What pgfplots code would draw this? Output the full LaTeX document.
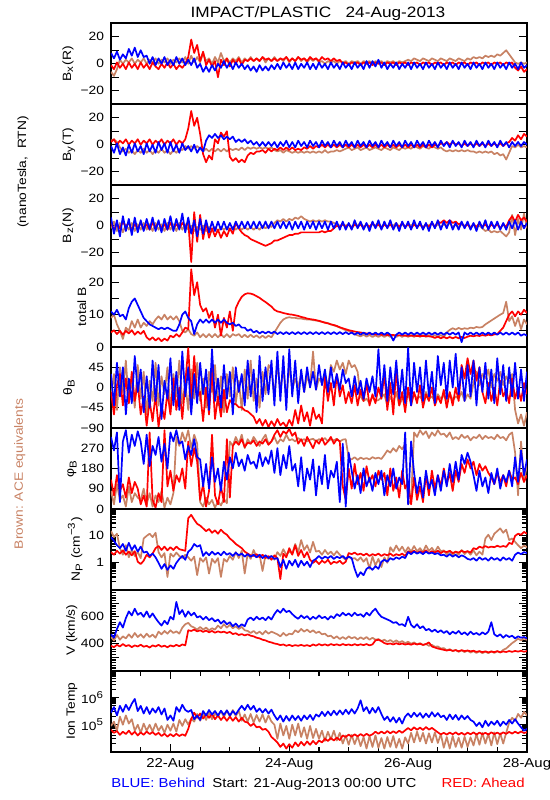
\documentclass[border=0pt]{standalone}
\usepackage{fontspec}
\setmainfont{Liberation Sans}[FakeStretch=1.15]
\usepackage{pgfplots}
\usepackage{pgfplotstable}
\pgfplotsset{compat=1.18}
\definecolor{acebrown}{RGB}{200,130,100}

\pgfplotstableread{
t r b g
0.00 -1 8 -6
0.05 -4 4 -9
0.10 1 9 -4
0.15 -3 3 3
0.20 0 7 0
0.25 -4 4 3
0.30 1 11 1
0.35 -3 6 4
0.40 0 12 0
0.45 -4 5 3
0.50 1 10 1
0.55 -3 5 4
0.60 0 6 0
0.65 -4 0 3
0.70 1 5 1
0.75 -2 -1 4
0.80 -4 4 0
0.85 0 0 3
0.90 -3 5 1
0.95 1 -1 4
1.00 -3 3 0
1.05 0 -1 3
1.10 -4 5 1
1.15 -1 0 4
1.20 -3 4 1
1.25 0 -1 5
1.30 5 3 0
1.35 18 -1 6
1.40 8 4 1
1.45 14 -3 5
1.50 2 0 1
1.55 9 -6 8
1.60 -1 -2 2
1.65 3 -6 4
1.70 -2 -1 0
1.75 2 -5 5
1.80 -10 0 1
1.85 3 -3 8
1.90 -1 2 2
1.95 4 -3 4
2.00 -2 1 1
2.05 3 -4 4
2.10 0 1 2
2.15 4 -3 5
2.20 -1 0 1
2.25 3 -4 4
2.30 2 -1 2
2.35 4 -5 5
2.40 2 -2 2
2.45 4 -6 4
2.50 2 -1 2
2.55 5 -5 5
2.60 3 -2 1
2.65 4 -5 4
2.70 2 -1 2
2.75 4 -4 5
2.80 2 0 2
2.85 4 -4 4
2.90 3 1 2
2.95 5 -3 5
3.00 2 0 1
3.05 4 -4 4
3.10 2 1 2
3.15 5 -4 5
3.20 3 0 2
3.25 4 -3 4
3.30 2 1 1
3.35 5 -4 4
3.40 3 0 2
3.45 4 -4 4
3.50 2 1 1
3.55 5 -3 2
3.60 3 0 0
3.65 4 -4 2
3.70 2 1 1
3.75 4 -3 2
3.80 2 0 0
3.85 3 -4 2
3.90 0 1 1
3.95 1 -3 2
4.00 -1 0 0
4.05 1 -4 2
4.10 0 1 1
4.15 1 -3 2
4.20 -1 0 0
4.25 1 -4 2
4.30 0 2 1
4.35 1 -3 2
4.40 -1 2 0
4.45 1 -2 2
4.50 0 3 1
4.55 1 -3 2
4.60 -1 1 0
4.65 1 -4 2
4.70 0 0 1
4.75 1 -3 2
4.80 -1 1 0
4.85 1 -4 2
4.90 0 0 1
4.95 1 -3 2
5.00 -1 1 3
5.05 1 -4 2
5.10 0 1 4
5.15 1 -3 3
5.20 -1 0 2
5.25 1 -4 4
5.30 0 1 3
5.35 1 -3 2
5.40 -1 0 4
5.45 1 -4 3
5.50 0 1 2
5.55 1 -3 4
5.60 -1 0 3
5.65 1 -4 2
5.70 0 1 4
5.75 1 -3 3
5.80 -1 0 2
5.85 1 -4 4
5.90 0 1 3
5.95 1 -3 2
6.00 -1 0 4
6.05 1 -4 3
6.10 0 1 5
6.15 1 -3 4
6.20 -1 0 5
6.25 1 -4 4
6.30 0 1 6
6.35 1 -3 5
6.40 -1 0 6
6.45 1 -4 5
6.50 0 1 7
6.55 1 -3 6
6.60 -1 0 8
6.65 1 -4 10
6.70 0 1 7
6.75 1 -3 4
6.80 -3 0 1
6.85 -5 -4 0
6.90 -2 1 1
6.95 -6 -3 0
7.00 -4 -1 1
}\tBx

\pgfplotstableread{
t r b g
0.00 2 -1 3
0.05 4 -6 4
0.10 0 1 2
0.15 3 -7 -2
0.20 1 -2 -5
0.25 4 -8 -3
0.30 0 0 -6
0.35 3 -6 -4
0.40 1 1 -7
0.45 4 -5 -4
0.50 0 -1 -6
0.55 3 -7 -3
0.60 1 1 -6
0.65 4 -5 -4
0.70 0 0 -7
0.75 3 -6 -4
0.80 1 2 -6
0.85 4 -4 -3
0.90 0 1 -6
0.95 3 -6 -4
1.00 1 2 -7
1.05 4 -5 -4
1.10 0 0 -6
1.15 3 -6 -3
1.20 1 1 -4
1.25 4 -4 -1
1.30 12 -1 -3
1.35 25 -5 -1
1.40 14 0 -3
1.45 20 -6 -1
1.50 8 -2 -3
1.55 -7 -5 -5
1.60 -13 3 -3
1.65 -8 7 -5
1.70 -11 5 -3
1.75 4 8 -5
1.80 1 5 -3
1.85 9 7 -5
1.90 6 4 -3
1.95 10 6 -5
2.00 -9 4 -3
2.05 -12 6 -4
2.10 -10 2 -3
2.15 -13 4 -4
2.20 -11 2 -2
2.25 -13 4 -4
2.30 -8 1 -2
2.35 -6 3 -3
2.40 -7 0 -2
2.45 -5 2 -3
2.50 -5 -1 -2
2.55 -4 2 -3
2.60 -6 -1 -2
2.65 -3 2 -3
2.70 -5 -1 -2
2.75 -3 2 -4
2.80 -4 -2 -5
2.85 -2 2 -4
2.90 -4 -1 -6
2.95 -2 3 -4
3.00 -4 -2 -5
3.05 -2 2 -6
3.10 -4 -2 -5
3.15 -3 3 -6
3.20 -4 -1 -5
3.25 -2 2 -6
3.30 -3 -2 -5
3.35 -1 3 -6
3.40 -3 -1 -5
3.45 -1 2 -6
3.50 -2 -2 -5
3.55 0 3 -6
3.60 -2 -1 -4
3.65 0 2 -6
3.70 -2 -2 -5
3.75 0 3 -5
3.80 -2 -1 -4
3.85 0 2 -5
3.90 -2 -2 -4
3.95 0 3 -3
4.00 -2 -1 -2
4.05 0 2 -4
4.10 -2 -2 -3
4.15 0 3 -2
4.20 -2 -1 -4
4.25 0 2 -3
4.30 -2 -2 -2
4.35 0 3 -4
4.40 -2 -1 -3
4.45 0 2 -2
4.50 -2 -2 -3
4.55 0 3 -4
4.60 -2 -1 -2
4.65 0 2 -3
4.70 -2 -2 -4
4.75 0 3 -2
4.80 -2 -1 -3
4.85 0 2 -4
4.90 -2 -2 -2
4.95 0 3 -3
5.00 -2 -1 -2
5.05 0 2 -3
5.10 -2 -2 -1
5.15 0 3 -2
5.20 -2 -1 -3
5.25 0 2 -1
5.30 -2 -2 -2
5.35 0 3 -3
5.40 -2 -1 -1
5.45 0 2 -2
5.50 -1 -2 -3
5.55 1 3 -2
5.60 0 -1 -4
5.65 2 2 -5
5.70 0 -2 -4
5.75 2 3 -5
5.80 0 -1 -4
5.85 1 2 -5
5.90 -1 -2 -4
5.95 1 3 -5
6.00 -1 -1 -4
6.05 1 2 -5
6.10 -1 -2 -5
6.15 1 3 -6
6.20 -1 -1 -5
6.25 1 2 -6
6.30 -1 -2 -5
6.35 1 3 -6
6.40 -1 -1 -5
6.45 1 2 -7
6.50 -1 -2 -6
6.55 1 3 -8
6.60 -1 -1 -7
6.65 1 2 -11
6.70 2 -2 -6
6.75 5 2 -1
6.80 3 -1 -2
6.85 7 2 0
6.90 4 -1 -2
6.95 8 2 -1
7.00 6 0 -2
}\tBy

\pgfplotstableread{
t r b g
0.00 2 6 -2
0.05 -3 -6 3
0.10 1 4 -4
0.15 -2 -8 2
0.20 3 7 -5
0.25 -1 -4 1
0.30 2 5 -3
0.35 -3 -7 2
0.40 1 6 -4
0.45 -2 -5 1
0.50 2 4 -3
0.55 -2 -4 2
0.60 1 5 -3
0.65 -3 -3 1
0.70 2 6 -4
0.75 -1 -4 2
0.80 2 4 -3
0.85 -2 -5 1
0.90 1 5 -4
0.95 -3 -3 2
1.00 2 7 -3
1.05 -2 -4 1
1.10 1 5 -4
1.15 -2 -3 2
1.20 2 9 -3
1.25 -1 -5 1
1.30 3 6 -3
1.35 -27 -6 0
1.40 10 4 -4
1.45 -12 -8 -1
1.50 8 5 -3
1.55 -10 -6 0
1.60 2 4 -4
1.65 -9 -5 -1
1.70 -2 3 -3
1.75 -8 -4 -1
1.80 -3 3 -4
1.85 -9 -3 -1
1.90 -4 3 -3
1.95 -8 -3 -1
2.00 -2 2 -3
2.05 -6 -3 -1
2.10 2 3 -3
2.15 -2 -2 -1
2.20 -5 3 -3
2.25 -7 -2 -1
2.30 -8 3 -3
2.35 -10 -2 -1
2.40 -11 3 -3
2.45 -12 -2 -1
2.50 -13 3 -3
2.55 -14 -2 0
2.60 -15 3 -2
2.65 -14 -2 0
2.70 -13 3 -1
2.75 -11 -2 2
2.80 -11 3 4
2.85 -10 -2 3
2.90 -9 3 5
2.95 -8 -2 3
3.00 -7 3 5
3.05 -7 -3 4
3.10 -6 3 6
3.15 -6 -2 5
3.20 -5 3 7
3.25 -5 -3 5
3.30 -5 3 4
3.35 -5 -2 3
3.40 -5 3 4
3.45 -5 -3 3
3.50 -5 3 4
3.55 -4 -2 3
3.60 -5 3 4
3.65 -4 -3 3
3.70 -4 3 3
3.75 -2 -2 2
3.80 0 3 1
3.85 -1 -3 0
3.90 1 3 1
3.95 -1 -3 0
4.00 1 2 1
4.05 -2 -3 -1
4.10 1 4 1
4.15 -1 -2 0
4.20 1 3 2
4.25 -2 -3 -1
4.30 1 2 1
4.35 -1 -4 -1
4.40 2 3 1
4.45 -1 -2 0
4.50 1 4 2
4.55 -2 -3 -1
4.60 1 3 1
4.65 -1 -2 -1
4.70 1 4 1
4.75 -2 -3 0
4.80 1 2 2
4.85 -1 -4 -1
4.90 2 3 1
4.95 -1 -2 -1
5.00 1 3 1
5.05 -2 -3 0
5.10 1 4 2
5.15 -1 -2 -1
5.20 1 3 1
5.25 -2 -3 -1
5.30 1 2 1
5.35 -1 -4 0
5.40 2 3 2
5.45 -1 -2 -1
5.50 3 4 1
5.55 2 -3 -1
5.60 4 3 1
5.65 2 -2 0
5.70 4 4 2
5.75 2 -3 -1
5.80 3 2 1
5.85 1 -3 -1
5.90 2 3 1
5.95 -1 -2 0
6.00 1 3 1
6.05 -2 -3 -1
6.10 1 2 1
6.15 -1 -4 -1
6.20 2 3 0
6.25 -1 -2 -2
6.30 1 4 -4
6.35 -2 -3 -3
6.40 1 3 -5
6.45 -1 -2 -4
6.50 1 3 -5
6.55 -2 -3 -4
6.60 1 2 -6
6.65 -1 -3 -8
6.70 4 3 -5
6.75 7 -2 8
6.80 3 4 -7
6.85 8 -3 5
6.90 4 3 -3
6.95 6 -2 9
7.00 3 2 -2
}\tBz

\pgfplotstableread{
t r b g
0.00 4.5 11 9
0.05 5.2 10 10
0.10 4.0 11.5 7
0.15 5.0 9.5 5
0.20 3.8 10 2.5
0.25 5.0 8.5 6
0.30 4.2 12 5
0.35 5.2 14 8
0.40 3.8 15 6
0.45 4.8 13 8.5
0.50 4.0 11 6
0.55 5.0 9 7.5
0.60 3.0 8 6.5
0.65 2.2 7 8
0.70 3.0 6.5 7
0.75 2.0 6 8.5
0.80 2.8 5.5 9.5
0.85 1.8 6 8.5
0.90 2.6 5.5 10
0.95 2.0 6 8.5
1.00 3.5 5.5 9.5
1.05 3.0 5 8.5
1.10 4.0 5 9.5
1.15 3.2 7 8
1.20 4.5 10 5
1.25 6 11 4.5
1.30 5.5 9 5.5
1.35 24 8 4
1.40 16 4 3.5
1.45 20 7 4.5
1.50 13 8.5 3
1.55 11 7.5 4
1.60 12 8.5 3
1.65 9 7.5 4
1.70 11 8.5 3
1.75 6 7.5 4
1.80 10 8.5 3
1.85 3.5 7.5 4
1.90 9 8.5 3
1.95 6 7.5 4
2.00 11 7 3
2.05 5 7.5 4
2.10 12 6.5 3.5
2.15 14 7 4
2.20 15.5 6 3
2.25 16.3 6 3.8
2.30 16.6 5 3
2.35 16.5 5.5 3.8
2.40 16.2 4.5 3
2.45 15.7 5 3.6
2.50 15.2 4.2 2.8
2.55 14.5 4.8 3.5
2.60 13.9 4.2 2.8
2.65 13.2 4.8 3.5
2.70 12.5 4.2 3
2.75 11.5 4.8 4.5
2.80 11 4 6
2.85 10.8 4.6 7.5
2.90 10.5 4 8.5
2.95 10.3 4.6 9
3.00 10.1 4 9.2
3.05 10 4.6 9
3.10 9.8 4 9
3.15 9.6 4.6 8.8
3.20 9.3 4 8.8
3.25 9.1 4.6 8.6
3.30 8.8 4 8.5
3.35 8.6 4.6 8.5
3.40 8.5 4 8.3
3.45 8.3 4.6 8.2
3.50 8.1 4 8
3.55 7.8 4.6 7.8
3.60 7.5 4 7.6
3.65 7.3 4.6 7.4
3.70 7 4 7
3.75 6.8 4.6 6.7
3.80 6.5 4 6.4
3.85 6.1 4.6 6
3.90 5.8 4 5.6
3.95 5.5 4.6 5.2
4.00 5.2 4 5
4.05 5 4.5 4.5
4.10 4.8 3.8 4
4.15 4.6 4.5 3.6
4.20 4.5 3.8 3.3
4.25 4.3 4.5 3.8
4.30 4.2 3.8 3.2
4.35 4.1 4.5 3.7
4.40 4 3.8 3.1
4.45 3.9 4.5 3.6
4.50 3.9 3.8 3.1
4.55 3.8 4.5 3.7
4.60 3.8 3.8 3.1
4.65 3.7 4.5 3.7
4.70 3.7 3.8 3.1
4.75 3.7 2.0 3.7
4.80 3.6 3.8 3.1
4.85 3.6 4.5 3.7
4.90 3.6 3.8 3.1
4.95 3.5 4.5 3.7
5.00 3.5 3.8 3.1
5.05 3.5 4.5 3.7
5.10 3.5 3.8 3.1
5.15 3.4 4.5 3.7
5.20 3.4 3.8 3.1
5.25 3.4 4.5 3.7
5.30 3.4 3.8 3.1
5.35 3.3 4.5 3.7
5.40 3.2 3.8 3.1
5.45 2.8 4.5 3.7
5.50 3.2 3.8 3.1
5.55 2.7 4.5 3.7
5.60 3.1 3.8 3.1
5.65 2.7 4.5 4.5
5.70 3.1 3.8 5.3
5.75 2.7 4.5 5.8
5.80 3.1 3.8 5.4
5.85 2.7 4.5 5.9
5.90 3.1 1.5 5.5
5.95 2.8 4.5 5.8
6.00 3.2 3.8 5.6
6.05 3.5 4.5 6
6.10 3.3 3.8 5.8
6.15 3.6 4.5 6.2
6.20 3.4 3.8 6
6.25 3.7 4.5 6.2
6.30 3.5 3.8 7
6.35 3.8 4.5 7.6
6.40 3.6 3.8 8.2
6.45 3.9 4.5 8.8
6.50 4 3.8 9.4
6.55 5 4.5 10
6.60 6 3.8 10.5
6.65 8 4.5 14
6.70 10 3.8 8
6.75 11 4.5 9.5
6.80 9.5 3.8 6.5
6.85 11 4.5 9
6.90 10 3.5 5.5
6.95 11.5 4 8.5
7.00 10.5 3.5 7
}\tBt

\pgfplotstableread{
t r b g
0.00 -10 30 -20
0.05 -60 -40 30
0.10 5 55 -50
0.15 30 -20 45
0.20 -40 45 -10
0.25 20 -60 60
0.30 -35 20 -35
0.35 35 -35 20
0.40 -30 70 -45
0.45 10 -10 50
0.50 -60 40 -25
0.55 -20 -55 35
0.60 -85 25 -60
0.65 -30 -45 15
0.70 -75 60 -30
0.75 -15 -30 55
0.80 -88 50 -40
0.85 -40 -70 25
0.90 -70 15 -15
0.95 -10 -25 45
1.00 -60 65 -55
1.05 20 -40 30
1.10 -50 35 -20
1.15 0 -50 60
1.20 -70 80 -35
1.25 10 -20 10
1.30 88 45 -50
1.35 -30 -60 40
1.40 70 30 -25
1.45 -20 -35 55
1.50 -10 55 -30
1.55 -75 -15 20
1.60 0 40 -45
1.65 -60 -50 35
1.70 45 85 -10
1.75 -70 -30 50
1.80 -20 20 -40
1.85 -65 -45 25
1.90 -5 50 -55
1.95 -55 -25 30
2.00 -28 35 -20
2.05 -36 -60 45
2.10 -37 45 -35
2.15 -44 -10 15
2.20 -44 30 -50
2.25 -51 -40 40
2.30 -53 60 -25
2.35 -59 -20 60
2.40 -65 40 -30
2.45 -80 -55 20
2.50 -70 70 -45
2.55 -85 -30 35
2.60 -72 45 -15
2.65 -88 -15 50
2.70 -75 60 40
2.75 -86 -40 -20
2.80 -70 80 55
2.85 -84 -30 -10
2.90 -78 70 45
2.95 -88 -50 -25
3.00 -72 85 50
3.05 -85 -20 -5
3.10 -50 60 20
3.15 -80 -35 0
3.20 -40 40 30
3.25 -75 -10 -10
3.30 -55 45 25
3.35 -85 0 5
3.40 -45 35 80
3.45 -70 -5 -5
3.50 -60 50 20
3.55 -80 5 10
3.60 25 40 30
3.65 -30 -10 0
3.70 10 45 50
3.75 -40 0 35
3.80 30 30 60
3.85 -20 -5 40
3.90 5 40 55
3.95 -35 10 30
4.00 -10 20 60
4.05 -35 -20 45
4.10 5 25 50
4.15 -40 -15 35
4.20 -5 15 -20
4.25 -30 -25 -30
4.30 10 20 -25
4.35 -40 -10 -35
4.40 -15 25 -20
4.45 -35 -20 -30
4.50 0 85 -28
4.55 -25 -20 -22
4.60 30 50 -15
4.65 -50 -30 -40
4.70 10 45 -20
4.75 -60 -15 -35
4.80 40 60 -10
4.85 -40 -25 -40
4.90 -10 40 -25
4.95 -55 -35 -30
5.00 0 88 -15
5.05 -40 -40 -35
5.10 -10 55 -15
5.15 -35 -10 -25
5.20 5 45 -20
5.25 -45 -30 -30
5.30 -15 60 -10
5.35 -30 -20 -25
5.40 0 35 -20
5.45 -40 -35 -30
5.50 -20 70 -15
5.55 -35 5 -25
5.60 -5 55 -18
5.65 -45 -25 -30
5.70 -10 60 -12
5.75 -40 0 -28
5.80 0 75 -20
5.85 -30 -15 -25
5.90 50 45 -10
5.95 20 -30 -30
6.00 65 50 -15
6.05 30 -20 -25
6.10 60 60 10
6.15 15 -40 35
6.20 45 45 5
6.25 -10 -10 30
6.30 -35 55 20
6.35 10 -25 40
6.40 -30 40 0
6.45 0 -35 30
6.50 -40 65 15
6.55 15 -15 35
6.60 -20 50 5
6.65 -5 -30 25
6.70 -35 45 10
6.75 20 -20 30
6.80 -25 55 -50
6.85 0 -25 -80
6.90 -30 40 -60
6.95 10 -30 -85
7.00 -15 35 -55
}\tTh

\pgfplotstableread{
t r b g
0.00 130 320 80
0.05 60 260 20
0.10 150 340 110
0.15 80 30 40
0.20 110 300 60
0.25 50 350 10
0.30 140 250 100
0.35 70 330 30
0.40 120 280 70
0.45 90 345 50
0.50 20 300 40
0.55 60 200 90
0.60 10 330 20
0.65 340 190 70
0.70 40 280 10
0.75 5 240 60
0.80 70 320 30
0.85 30 210 80
0.90 350 290 5
0.95 100 180 50
1.00 170 340 20
1.05 80 300 70
1.10 150 350 320
1.15 120 290 280
1.20 180 300 340
1.25 90 220 300
1.30 300 280 350
1.35 190 240 270
1.40 270 310 330
1.45 210 230 290
1.50 40 220 30
1.55 110 100 10
1.60 10 200 50
1.65 80 90 20
1.70 330 230 40
1.75 60 120 5
1.80 20 180 35
1.85 100 80 15
1.90 30 210 45
1.95 310 130 25
2.00 50 230 300
2.05 280 180 280
2.10 300 250 320
2.15 285 190 290
2.20 310 220 330
2.25 275 170 270
2.30 295 240 310
2.35 290 200 290
2.40 305 210 320
2.45 280 180 300
2.50 300 250 280
2.55 290 190 310
2.60 310 230 330
2.65 285 200 290
2.70 300 260 300
2.75 330 160 320
2.80 350 270 290
2.85 320 150 310
2.90 345 240 300
2.95 335 180 330
3.00 355 280 305
3.05 325 170 310
3.10 340 200 300
3.15 290 100 315
3.20 310 230 305
3.25 280 80 310
3.30 320 180 300
3.35 295 130 308
3.40 270 220 312
3.45 305 60 300
3.50 290 190 310
3.55 315 110 305
3.60 285 240 315
3.65 300 90 300
3.70 320 170 310
3.75 290 140 305
3.80 310 210 312
3.85 300 30 300
3.90 100 290 308
3.95 40 10 310
4.00 180 250 225
4.05 90 170 220
4.10 200 90 230
4.15 110 150 218
4.20 160 70 228
4.25 80 180 222
4.30 190 100 226
4.35 120 140 220
4.40 150 80 230
4.45 100 160 224
4.50 170 110 228
4.55 130 170 222
4.60 160 60 240
4.65 60 150 260
4.70 180 100 250
4.75 80 180 270
4.80 140 90 255
4.85 50 140 280
4.90 170 110 265
4.95 90 340 290
5.00 120 20 20
5.05 20 300 40
5.10 140 160 340
5.15 40 70 320
5.20 100 140 350
5.25 30 50 330
5.30 150 170 345
5.35 60 90 315
5.40 170 130 340
5.45 90 60 325
5.50 150 150 350
5.55 100 80 330
5.60 180 170 335
5.65 110 100 320
5.70 160 200 340
5.75 80 120 310
5.80 170 210 320
5.85 120 130 310
5.90 200 240 330
5.95 160 200 315
6.00 220 250 325
6.05 180 210 305
6.10 210 150 320
6.15 150 80 315
6.20 200 170 330
6.25 170 100 310
6.30 190 140 325
6.35 160 70 315
6.40 140 160 320
6.45 110 110 310
6.50 160 180 330
6.55 120 90 315
6.60 150 150 320
6.65 100 120 305
6.70 170 170 330
6.75 130 100 340
6.80 140 230 250
6.85 110 120 60
6.90 160 260 300
6.95 120 150 120
7.00 150 220 200
}\tPh

\pgfplotstableread{
t r b g
0.00 2.5 9 15
0.05 2.0 6.5 9
0.10 2.8 4.5 12
0.15 2.2 3.5 3.5
0.20 2.9 5 2.0
0.25 2.0 2.8 4.5
0.30 2.6 5.5 1.6
0.35 1.9 3 3.0
0.40 2.7 4.5 1.8
0.45 1.1 2.6 2.5
0.50 0.9 4 1.5
0.55 1.2 2.4 8
0.60 2.0 2.6 10
0.65 1.6 1.8 12
0.70 2.2 2.2 9
0.75 3.5 1.6 13
0.80 4.2 1.0 2.5
0.85 3.0 0.6 1.6
0.90 4.0 0.9 2.3
0.95 2.9 0.55 0.3
1.00 3.8 0.8 2.2
1.05 3.0 0.6 1.7
1.10 4.0 1.0 2.4
1.15 3.2 1.4 1.8
1.20 3.0 1.8 1.5
1.25 2.8 1.3 2.0
1.30 45 2.6 1.6
1.35 60 3.2 1.2
1.40 40 5 1.7
1.45 28 4 0.35
1.50 24 4.5 1.5
1.55 19 1.8 1.1
1.60 15 2.5 1.6
1.65 18 1.9 0.4
1.70 13 2.6 1.4
1.75 16 2.0 1.0
1.80 12 2.4 1.5
1.85 17 1.9 0.3
1.90 13 2.6 1.4
1.95 11 2.0 1.1
2.00 8 2.3 1.8
2.05 6.5 1.8 1.3
2.10 5 2.4 2.5
2.15 4.2 1.9 1.5
2.20 3.5 2.2 2.8
2.25 2.6 1.7 0.4
2.30 2.2 2.1 2.2
2.35 1.9 1.7 1.4
2.40 1.8 2.0 3.0
2.45 2.1 1.6 1.6
2.50 1.6 2.0 2.0
2.55 2.0 1.5 0.5
2.60 1.5 1.9 1.9
2.65 1.8 1.5 1.4
2.70 1.3 1.8 1.8
2.75 1.9 1.4 1.3
2.80 1.5 1.5 2.5
2.85 0.25 0.7 1.8
2.90 2.2 1.3 3.2
2.95 1.6 0.6 2.0
3.00 3.5 1.2 2.6
3.05 2.0 0.8 2.2
3.10 4.5 1.3 5
3.15 1.8 0.7 2.5
3.20 3.0 1.2 7
3.25 1.6 0.8 3
3.30 2.5 1.1 4.5
3.35 1.3 0.7 2.4
3.40 1.0 1.2 6
3.45 1.2 1.4 2.6
3.50 0.9 1.8 2.8
3.55 1.2 1.4 2.0
3.60 1.0 1.7 3.0
3.65 1.3 1.5 2.1
3.70 0.9 1.8 2.6
3.75 1.1 1.4 1.9
3.80 1.0 1.7 2.7
3.85 1.2 1.5 2.0
3.90 0.9 1.8 1.6
3.95 1.1 1.4 1.3
4.00 2.3 1.7 1.7
4.05 2.1 1.5 1.4
4.10 2.4 0.6 1.5
4.15 2.0 0.3 1.2
4.20 2.2 0.45 1.6
4.25 1.9 0.35 1.1
4.30 2.2 0.6 1.5
4.35 1.8 0.7 0.6
4.40 2.1 0.55 1.7
4.45 1.9 0.75 0.8
4.50 2.2 0.6 1.4
4.55 1.8 1.1 0.7
4.60 2.1 1.3 1.6
4.65 1.9 1.1 1.0
4.70 2.2 1.5 3.8
4.75 1.8 1.3 2.6
4.80 2.1 1.6 4.4
4.85 1.9 1.4 2.8
4.90 2.2 1.7 4.0
4.95 1.8 1.5 2.5
5.00 2.7 2.5 3.8
5.05 2.4 2.1 2.6
5.10 2.8 2.6 4.2
5.15 2.3 2.2 2.7
5.20 2.7 2.5 3.5
5.25 2.4 2.1 2.5
5.30 2.9 2.6 4.4
5.35 2.3 2.2 2.8
5.40 2.7 2.4 3.6
5.45 2.4 2.1 2.5
5.50 2.8 2.3 4.0
5.55 2.3 1.9 2.7
5.60 2.7 2.0 2.9
5.65 2.5 1.7 2.0
5.70 2.8 2.1 2.8
5.75 2.3 1.7 1.9
5.80 2.6 2.0 2.6
5.85 2.4 1.6 2.0
5.90 2.8 1.9 3.0
5.95 2.5 1.7 2.1
6.00 2.7 1.4 2.7
6.05 2.4 1.3 2.0
6.10 3.5 1.5 2.9
6.15 3.2 1.2 1.9
6.20 4.0 1.6 2.6
6.25 3.6 1.3 2.0
6.30 4.2 1.5 8
6.35 3.7 1.2 11
6.40 4.0 1.6 7
6.45 3.8 1.3 12
6.50 4.3 1.5 15
6.55 3.9 1.2 19
6.60 4.2 1.6 13
6.65 3.9 1.3 17
6.70 5.5 1.5 7
6.75 5.0 1.2 8
6.80 10 2.0 6
6.85 12 2.4 4.5
6.90 11 2.1 3.5
6.95 14 2.5 4.4
7.00 12 2.3 3.8
}\tNp

\pgfplotstableread{
t r b g
0.00 385 470 450
0.05 375 445 425
0.10 392 510 465
0.15 380 560 430
0.20 398 520 455
0.25 383 590 440
0.30 390 640 470
0.35 375 610 445
0.40 388 660 480
0.45 380 615 450
0.50 393 630 470
0.55 378 600 445
0.60 385 640 475
0.65 372 595 450
0.70 388 625 468
0.75 380 590 445
0.80 392 560 490
0.85 378 535 470
0.90 386 570 495
0.95 374 545 475
1.00 388 600 500
1.05 380 580 480
1.10 392 710 492
1.15 382 620 475
1.20 395 650 520
1.25 388 600 545
1.30 500 640 555
1.35 495 610 530
1.40 505 630 520
1.45 492 595 505
1.50 500 605 525
1.55 488 580 505
1.60 498 600 520
1.65 485 575 500
1.70 495 590 515
1.75 482 565 505
1.80 492 580 535
1.85 484 550 515
1.90 490 570 545
1.95 480 545 520
2.00 488 560 540
2.05 472 530 515
2.10 478 550 530
2.15 465 525 510
2.20 472 545 525
2.25 462 530 500
2.30 470 580 495
2.35 460 595 480
2.40 455 575 495
2.45 445 600 475
2.50 440 580 490
2.55 430 595 470
2.60 425 575 495
2.65 415 600 475
2.70 410 580 490
2.75 402 620 480
2.80 398 650 470
2.85 390 630 455
2.90 395 660 480
2.95 385 635 460
3.00 392 645 475
3.05 383 620 470
3.10 390 600 500
3.15 385 585 485
3.20 392 610 510
3.25 384 590 490
3.30 390 605 505
3.35 382 580 485
3.40 395 600 500
3.45 386 585 480
3.50 398 610 490
3.55 388 590 470
3.60 396 600 475
3.65 387 580 455
3.70 398 605 460
3.75 390 590 440
3.80 396 620 455
3.85 388 605 435
3.90 398 630 450
3.95 390 610 435
4.00 395 625 455
4.05 388 605 440
4.10 397 630 450
4.15 389 610 432
4.20 396 620 448
4.25 390 600 435
4.30 398 630 450
4.35 388 610 430
4.40 395 640 445
4.45 425 660 430
4.50 430 625 435
4.55 420 600 420
4.60 405 590 430
4.65 398 580 415
4.70 402 570 428
4.75 395 555 412
4.80 404 560 425
4.85 396 540 410
4.90 402 545 420
4.95 394 530 405
5.00 400 600 415
5.05 393 540 400
5.10 402 520 410
5.15 395 545 395
5.20 400 515 405
5.25 392 530 390
5.30 398 500 398
5.35 410 510 385
5.40 380 490 392
5.45 372 505 378
5.50 365 485 380
5.55 360 500 365
5.60 355 480 368
5.65 350 495 352
5.70 355 470 360
5.75 348 490 345
5.80 352 475 355
5.85 345 495 340
5.90 352 470 352
5.95 346 485 338
6.00 350 465 350
6.05 344 490 335
6.10 348 470 345
6.15 340 480 332
6.20 345 465 345
6.25 338 485 330
6.30 344 470 342
6.35 336 490 330
6.40 342 560 345
6.45 338 470 332
6.50 345 455 345
6.55 337 470 335
6.60 343 445 355
6.65 339 465 365
6.70 346 450 385
6.75 340 460 405
6.80 347 440 420
6.85 342 455 438
6.90 348 445 425
6.95 341 450 440
7.00 346 440 428
}\tV

\pgfplotstableread{
t r b g
0.00 6.5e4 2.8e5 9e4
0.05 5e4 4.5e5 1.3e5
0.10 5.8e4 2.2e5 6e4
0.15 4.2e4 5e5 2e5
0.20 5.5e4 3e5 1e5
0.25 4.5e4 5.5e5 2.2e5
0.30 6e4 3.5e5 1.1e5
0.35 4.3e4 6e5 1.6e5
0.40 5.5e4 9e5 6e4
0.45 4e4 3.2e5 1e5
0.50 5.2e4 5e5 5e4
0.55 4.2e4 2.6e5 1.1e5
0.60 5.6e4 4.5e5 6e4
0.65 4.5e4 2.5e5 1e5
0.70 5.3e4 4e5 5.5e4
0.75 4.2e4 2.8e5 1.1e5
0.80 5e4 4.5e5 6e4
0.85 3.8e4 2.4e5 9e4
0.90 4.6e4 4e5 5e4
0.95 3.6e4 1.5e5 1e5
1.00 4.5e4 2.2e5 6e4
1.05 3.7e4 1.4e5 1.1e5
1.10 4.6e4 4.5e5 5.5e4
1.15 3.8e4 3e5 1.5e5
1.20 4.4e4 5.5e5 9e4
1.25 3.9e4 3.5e5 1.6e5
1.30 7e4 3e5 1e5
1.35 1.6e5 3.5e5 1.7e5
1.40 2.8e5 1.6e5 1.3e5
1.45 1.8e5 2.2e5 2.5e5
1.50 2.6e5 1.5e5 1.4e5
1.55 1.7e5 3.2e5 2.6e5
1.60 2.4e5 2.2e5 1.5e5
1.65 1.8e5 3.5e5 2.8e5
1.70 2.5e5 2.4e5 1.6e5
1.75 1.6e5 3.2e5 2.6e5
1.80 2.2e5 2.2e5 2e5
1.85 1.5e5 3.3e5 3.2e5
1.90 2e5 2.3e5 1.9e5
1.95 1.4e5 3.4e5 3.4e5
2.00 2e5 2.2e5 2e5
2.05 1.4e5 3.2e5 3.5e5
2.10 1.9e5 2.4e5 2.1e5
2.15 1.3e5 3.6e5 3.3e5
2.20 1.8e5 5e5 1.4e5
2.25 1.3e5 3.5e5 2.4e5
2.30 1.2e5 5.5e5 1.3e5
2.35 9e4 3.6e5 2.5e5
2.40 1.1e5 5e5 1.2e5
2.45 8e4 3e5 2.3e5
2.50 8.5e4 4e5 1.3e5
2.55 6.5e4 2.8e5 2.4e5
2.60 7e4 3.8e5 1.2e5
2.65 5.5e4 2.6e5 2.2e5
2.70 3.5e4 3.6e5 1.3e5
2.75 2.8e4 2.2e5 1e5
2.80 2.2e4 1.5e5 3e4
2.85 1.5e4 2.2e5 1.1e5
2.90 2e4 1.3e5 4e4
2.95 1.3e4 2.1e5 9e4
3.00 1.9e4 1.4e5 3e4
3.05 1.4e4 2.2e5 1e5
3.10 2.2e4 1.5e5 4e4
3.15 1.6e4 2.1e5 1.1e5
3.20 2.3e4 1.4e5 3.5e4
3.25 1.7e4 2.2e5 8e4
3.30 2.4e4 1.6e5 3e4
3.35 1.8e4 2.3e5 9e4
3.40 2.5e4 1.5e5 3.2e4
3.45 1.9e4 2.4e5 7e4
3.50 2.6e4 2e5 3e4
3.55 2.2e4 3e5 6e4
3.60 3e4 2.1e5 2.5e4
3.65 2.5e4 3.1e5 5.5e4
3.70 3.2e4 2.2e5 2.8e4
3.75 2.6e4 3.3e5 6e4
3.80 3.3e4 2.3e5 2.6e4
3.85 2.7e4 3.4e5 5e4
3.90 4e4 2.4e5 2e4
3.95 3.5e4 3.6e5 4e4
4.00 4.3e4 2.5e5 1.8e4
4.05 3.6e4 3.8e5 4.2e4
4.10 4.4e4 2.6e5 1.9e4
4.15 3.7e4 4e5 3.8e4
4.20 4.5e4 8e5 1.6e4
4.25 3.8e4 3.2e5 3.5e4
4.30 4.6e4 4.5e5 1.3e4
4.35 3.9e4 2.6e5 3.8e4
4.40 4.4e4 4.2e5 1.5e4
4.45 5.5e4 2.8e5 4e4
4.50 4.6e4 4.5e5 1.4e4
4.55 5.6e4 2.5e5 3.2e4
4.60 4.7e4 1.5e5 1.3e4
4.65 5.8e4 2e5 3.5e4
4.70 4.8e4 1.3e5 1.5e4
4.75 5.7e4 1.9e5 3.8e4
4.80 4.9e4 1.2e5 1.4e4
4.85 6e4 1.8e5 3e4
4.90 5e4 1.1e5 1.3e4
4.95 6.2e4 2e5 3.4e4
5.00 7.5e4 2.6e5 2e4
5.05 6.2e4 1.9e5 5e4
5.10 8e4 2.8e5 2.2e4
5.15 6.5e4 2e5 5.5e4
5.20 7.8e4 2.7e5 2.4e4
5.25 6.4e4 1.8e5 5e4
5.30 8.2e4 2.6e5 2e4
5.35 6.6e4 1.9e5 4.8e4
5.40 7.6e4 2.9e5 2.2e4
5.45 6.3e4 2e5 5.2e4
5.50 5.2e4 2.7e5 2.1e4
5.55 4.4e4 1.9e5 4.5e4
5.60 5e4 2.2e5 1.4e4
5.65 4.3e4 1.5e5 3.5e4
5.70 5.1e4 2.4e5 1.3e4
5.75 4.4e4 1.6e5 3.8e4
5.80 5.2e4 2.3e5 1.5e4
5.85 4.3e4 1.5e5 3.3e4
5.90 5e4 2.2e5 1.4e4
5.95 4.2e4 1.6e5 3.6e4
6.00 5.1e4 2.1e5 1.5e4
6.05 4.4e4 1.5e5 3.4e4
6.10 5.2e4 1.3e5 1.7e4
6.15 4.3e4 9e4 4.5e4
6.20 5.1e4 1.2e5 1.8e4
6.25 4.4e4 8e4 5e4
6.30 5e4 1.4e5 2e4
6.35 4.3e4 9e4 4.6e4
6.40 5.2e4 1.3e5 1.7e4
6.45 4.5e4 1e5 5.2e4
6.50 5.1e4 1.4e5 1.9e4
6.55 4.4e4 9e4 4.8e4
6.60 5.2e4 1.3e5 2e4
6.65 4.6e4 1e5 5e4
6.70 5.4e4 1.5e5 1.2e5
6.75 4.7e4 1.1e5 1.8e5
6.80 5.5e4 1.6e5 1.4e5
6.85 4.8e4 1.1e5 2.5e5
6.90 5.6e4 8e4 1.8e5
6.95 4.9e4 6e4 3e5
7.00 5.3e4 7e4 2.2e5
}\tT

\pgfplotsset{
  panel/.style={
    scale only axis, width=208pt, height=40.465pt,
    xmin=0, xmax=7, anchor=north west, clip=true,
    axis line style={line width=0.9pt},
    every tick/.style={black, line width=0.6pt},
    major tick length=4pt, minor tick length=2.5pt,
    xtick=\empty, minor xtick={0,0.5,...,7},
    tick label style={font=\fontsize{6}{7}\selectfont},
    every axis y label/.style={rotate=90, anchor=base, font=\fontsize{6}{7}\selectfont},
  },
  ser/.style={line width=0.85pt, line join=round, mark=none},
}

\newcommand{\threeseries}[1]{%
  \addplot[acebrown, ser] table[x=t,y=g]{#1};
  \addplot[red, ser] table[x=t,y=r]{#1};
  \addplot[blue, ser] table[x=t,y=b]{#1};
}

\begin{document}
\begin{tikzpicture}
\path[use as bounding box] (0,0) rectangle (275pt,-400pt);

\node[anchor=base, font=\fontsize{7.5}{9}\selectfont] at (159pt,-8.5pt) {IMPACT/PLASTIC~~~24-Aug-2013};

\begin{axis}[panel, at={(55.5pt,-11.65pt)}, ymin=-30, ymax=30,
  ytick={-30,-20,...,30}, yticklabels={,−20,,0,,20,},
  ylabel={B\textsubscript{x}(R)}, ylabel style={at={(axis description cs:-0.096,0.5)}}]
\threeseries{\tBx}
\end{axis}

\begin{axis}[panel, at={(55.5pt,-52.115pt)}, ymin=-30, ymax=30,
  ytick={-30,-20,...,30}, yticklabels={,−20,,0,,20,},
  ylabel={B\textsubscript{y}(T)}, ylabel style={at={(axis description cs:-0.096,0.5)}}]
\threeseries{\tBy}
\end{axis}

\begin{axis}[panel, at={(55.5pt,-92.58pt)}, ymin=-30, ymax=30,
  ytick={-30,-20,...,30}, yticklabels={,−20,,0,,20,},
  ylabel={B\textsubscript{z}(N)}, ylabel style={at={(axis description cs:-0.096,0.5)}}]
\threeseries{\tBz}
\end{axis}

\begin{axis}[panel, at={(55.5pt,-133.045pt)}, ymin=0, ymax=25,
  ytick={0,5,...,25}, yticklabels={0,,10,,20,},
  ylabel={total B}, ylabel style={at={(axis description cs:-0.06,0.5)}}]
\threeseries{\tBt}
\end{axis}

\begin{axis}[panel, at={(55.5pt,-173.51pt)}, ymin=-90, ymax=90,
  ytick={-90,-45,0,45,90}, yticklabels={−90,−45,0,45,},
  ylabel={θ\textsubscript{B}}, ylabel style={at={(axis description cs:-0.094,0.5)}}]
\threeseries{\tTh}
\end{axis}

\begin{axis}[panel, at={(55.5pt,-213.975pt)}, ymin=0, ymax=360,
  ytick={0,90,180,270,360}, yticklabels={0,90,180,270,},
  ylabel={φ\textsubscript{B}}, ylabel style={at={(axis description cs:-0.089,0.5)}}]
\threeseries{\tPh}
\end{axis}

\begin{axis}[panel, at={(55.5pt,-254.44pt)}, ymode=log, ymin=0.1, ymax=100,
  ytick={0.1,1,10,100}, yticklabels={,1,10,},
  minor ytick={0.2,0.3,0.4,0.5,0.6,0.7,0.8,0.9,2,3,4,5,6,7,8,9,20,30,40,50,60,70,80,90},
  ylabel={N\textsubscript{P} (cm\textsuperscript{−3})}, ylabel style={at={(axis description cs:-0.075,0.5)}}]
\threeseries{\tNp}
\end{axis}

\begin{axis}[panel, at={(55.5pt,-294.905pt)}, ymin=200, ymax=800,
  ytick={200,300,...,800}, yticklabels={,,400,,600,,},
  minor ytick={220,240,...,780},
  ylabel={V (km/s)}, ylabel style={at={(axis description cs:-0.087,0.5)}}]
\threeseries{\tV}
\end{axis}

\begin{axis}[panel, at={(55.5pt,-335.37pt)}, ymode=log, ymin=1e4, ymax=1e7,
  ytick={1e4,1e5,1e6,1e7}, yticklabels={,10\textsuperscript{5},10\textsuperscript{6},},
  minor ytick={2e4,3e4,4e4,5e4,6e4,7e4,8e4,9e4,2e5,3e5,4e5,5e5,6e5,7e5,8e5,9e5,2e6,3e6,4e6,5e6,6e6,7e6,8e6,9e6},
  xtick={1,3,5,7}, xticklabels={22-Aug,24-Aug,26-Aug,28-Aug},
  xticklabel style={font=\fontsize{6.5}{8}\selectfont},
  ylabel={Ion Temp}, ylabel style={at={(axis description cs:-0.087,0.5)}}]
\threeseries{\tT}
\end{axis}

\node[rotate=90, anchor=base, inner sep=0pt, font=\fontsize{6}{7}\selectfont] at (13pt,-86pt) {(nanoTesla,~~RTN)};
\node[rotate=90, anchor=base, inner sep=0pt, text=acebrown, font=\fontsize{6}{7}\selectfont] at (11.5pt,-237pt) {Brown: ACE equivalents};

\node[anchor=base west, inner sep=0pt, text=blue, font=\fontsize{6.5}{8}\selectfont] at (55.5pt,-393.5pt) {BLUE: Behind};
\node[anchor=base west, inner sep=0pt, font=\fontsize{6.5}{8}\selectfont] at (106pt,-393.5pt) {Start: 21-Aug-2013 00:00 UTC};
\node[anchor=base east, inner sep=0pt, text=red, font=\fontsize{6.5}{8}\selectfont] at (262.5pt,-393.5pt) {RED: Ahead};
\end{tikzpicture}
\end{document}
